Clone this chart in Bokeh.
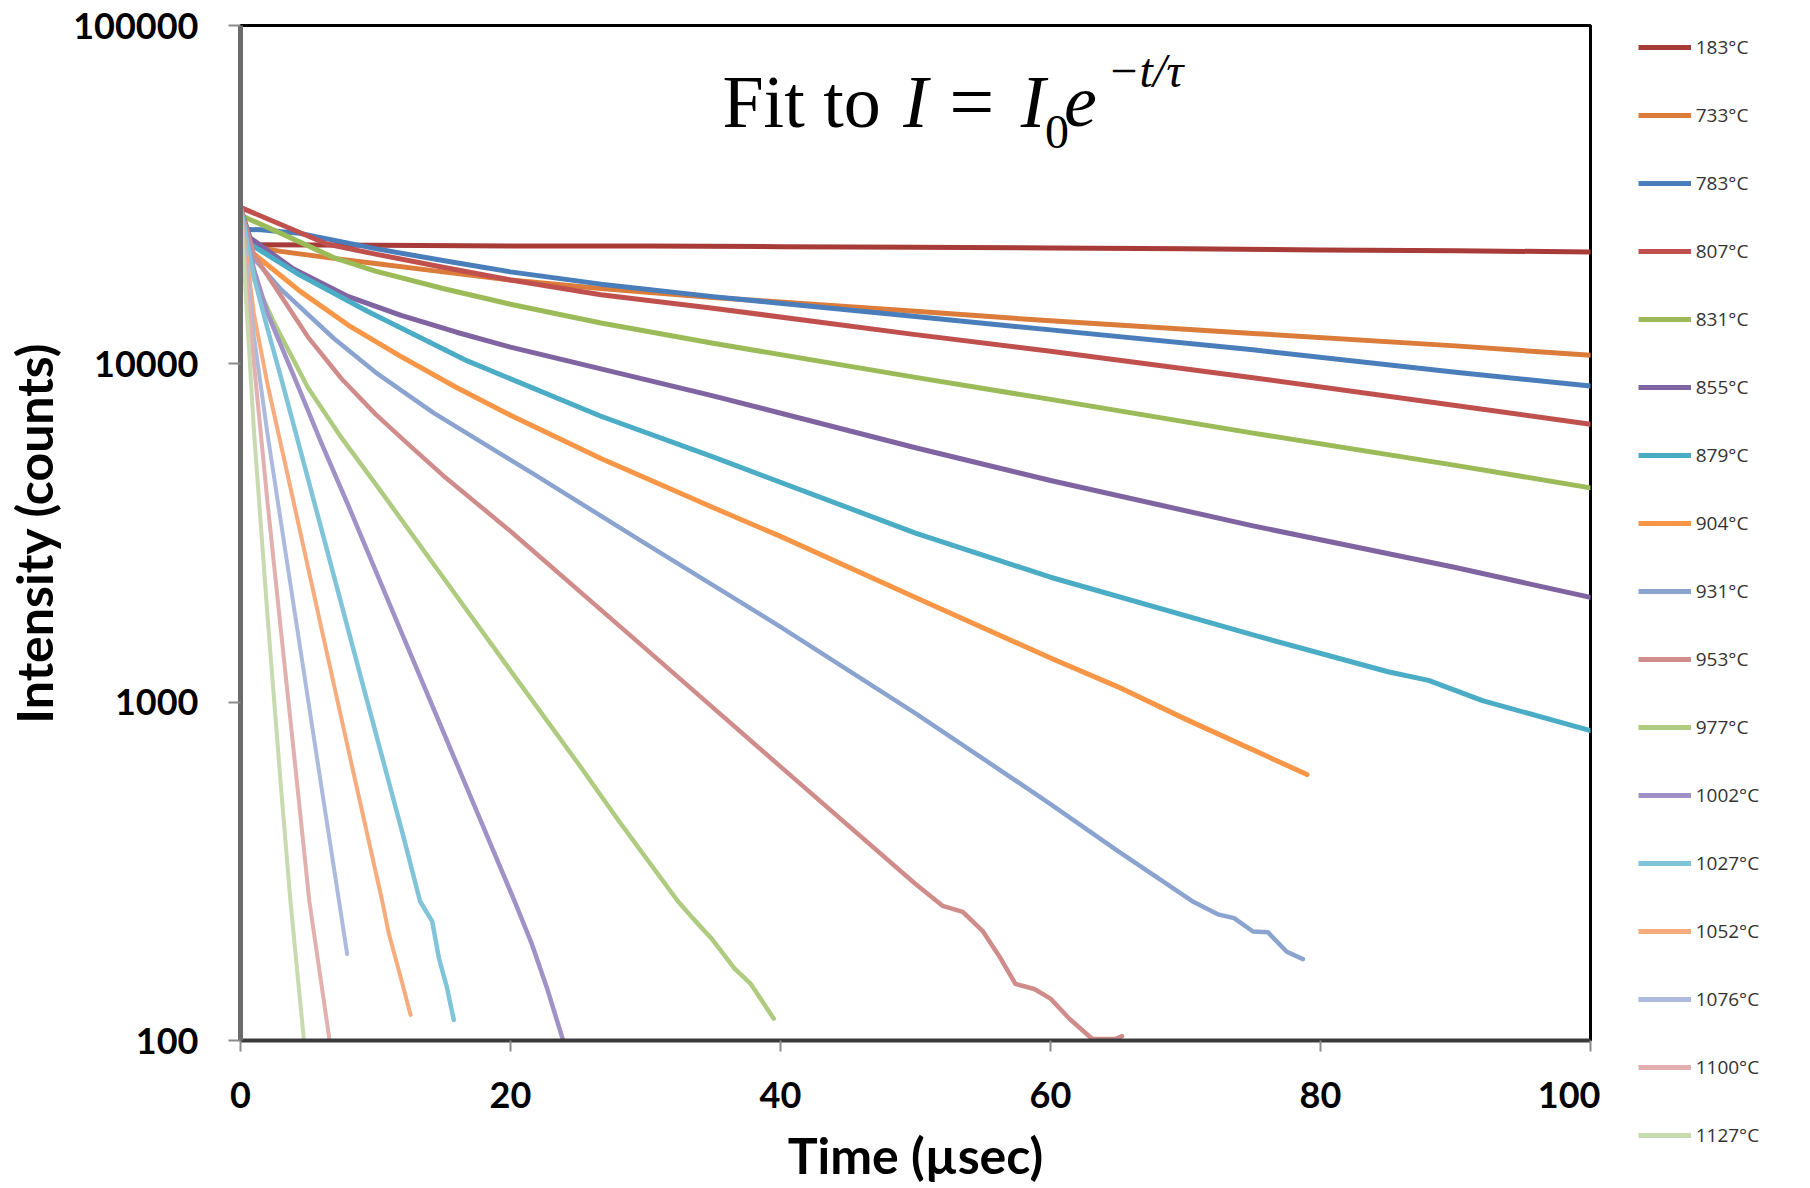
from bokeh.plotting import figure
from bokeh.layouts import row
from bokeh.models import (Range1d, Label, FixedTicker, PrintfTickFormatter,
                          Legend, LegendItem, Spacer)
from bokeh.embed import file_html
from bokeh.resources import INLINE

# ---- data: decay curves, intensity (counts) vs time (µs) ----
temps = ["183°C", "733°C", "783°C", "807°C", "831°C", "855°C", "879°C", "904°C",
         "931°C", "953°C", "977°C", "1002°C", "1027°C", "1052°C", "1076°C",
         "1100°C", "1127°C"]

t_183 = [0.5, 10, 20, 30, 40, 50, 60, 70, 80, 90, 100]
i_183 = [22500, 22400, 22300, 22300, 22200, 22100, 22000, 21900, 21700, 21600, 21400]

t_733 = [0.7, 3, 6.9, 10, 15, 20, 26.7, 35, 50, 60, 75, 90, 100]
i_733 = [22300, 21500, 20500, 19800, 18700, 17700, 16700, 15700, 14300, 13400, 12300, 11300, 10600]

t_783 = [0, 1.5, 4.4, 10, 15, 20, 26.7, 35, 50, 60, 75, 90, 100]
i_783 = [25000, 24900, 24300, 21900, 20200, 18700, 17200, 15800, 13800, 12600, 11000, 9440, 8600]

t_807 = [0, 6.4, 10, 15, 20, 26.7, 35, 50, 60, 75, 90, 100]
i_807 = [29000, 22600, 21100, 19300, 17700, 16000, 14600, 12200, 10900, 9100, 7530, 6630]

t_831 = [0, 3, 6.9, 10, 15, 20, 26.7, 35, 50, 60, 75, 90, 100]
i_831 = [27500, 24300, 20600, 18800, 16700, 15000, 13200, 11500, 9120, 7850, 6240, 5010, 4300]

t_855 = [0, 0.7, 3.9, 8, 11.9, 16, 20, 26.7, 35, 50, 60, 75, 90, 100]
i_855 = [29000, 23600, 19100, 15800, 13900, 12400, 11200, 9660, 8040, 5650, 4520, 3320, 2500, 2040]

t_879 = [0, 0.7, 4.4, 9.4, 16.8, 26.7, 35, 50, 60, 75, 85, 88, 92, 100]
i_879 = [29000, 22600, 18300, 14300, 10200, 7000, 5310, 3160, 2340, 1580, 1230, 1160, 1010, 824]

t_904 = [0, 0.7, 4.4, 8, 11.9, 16, 20, 26.7, 35, 40, 50, 60, 65, 70, 79]
i_904 = [29000, 21600, 16400, 13000, 10500, 8510, 7050, 5250, 3760, 3090, 2040, 1350, 1110, 891, 611]

t_931 = [0, 0.7, 3, 6.9, 10, 14.3, 21.7, 30, 40, 50, 60, 65, 70.5, 72.4, 73.6, 75.0, 76.1, 77.5, 78.7]
i_931 = [29000, 21100, 16600, 11900, 9440, 7160, 4730, 2940, 1670, 927, 500, 363, 258, 236, 230, 210, 209, 183, 174]

t_953 = [0, 1, 5, 7.5, 10, 12.5, 15, 20, 30, 40, 50, 52, 53.5, 55, 56.3, 57.4, 58.8, 60, 61.4, 63.1, 64.8, 65.3]
i_953 = [29000, 21000, 12000, 9020, 7100, 5750, 4680, 3200, 1440, 645, 290, 250, 240, 210, 175, 147, 142, 133, 116, 101, 101, 103]

t_977 = [0, 1, 2.5, 5, 7.5, 10, 15, 20, 25, 28, 32.4, 33.5, 34.9, 36.6, 37.8, 39.5]
i_977 = [29000, 17800, 13200, 8500, 6030, 4420, 2340, 1240, 660, 447, 258, 230, 200, 163, 147, 116]

t_1002 = [0, 1, 2, 4, 6, 8, 12, 16, 20.3, 21.6, 22.7, 23.9]
i_1002 = [29000, 19000, 14100, 9100, 5820, 3800, 1580, 660, 258, 192, 143, 100]

t_1027 = [0, 1, 2, 3, 6, 9, 12, 13.3, 14.2, 14.7, 15.3, 15.8]
i_1027 = [29000, 18000, 12700, 9100, 3240, 1150, 410, 258, 225, 175, 143, 115]

t_1052 = [0, 1, 2, 4, 6, 8, 10.5, 11.0, 11.9, 12.6]
i_1052 = [29000, 14000, 8700, 3800, 1650, 720, 258, 206, 152, 119]

t_1076 = [0, 1, 2, 4, 6, 7.3, 7.9]
i_1076 = [29000, 12000, 6200, 1860, 560, 258, 180]

t_1100 = [0, 1, 2, 3, 4, 5.1, 6.6]
i_1100 = [29000, 10000, 3900, 1620, 680, 258, 100]

t_1127 = [0, 1, 2, 3, 3.7, 4.7]
i_1127 = [29000, 6300, 1800, 560, 258, 100]

times = [t_183, t_733, t_783, t_807, t_831, t_855, t_879, t_904, t_931,
         t_953, t_977, t_1002, t_1027, t_1052, t_1076, t_1100, t_1127]
counts = [i_183, i_733, i_783, i_807, i_831, i_855, i_879, i_904, i_931,
          i_953, i_977, i_1002, i_1027, i_1052, i_1076, i_1100, i_1127]

colors = ["#A73B38", "#DB7C3B", "#4A7EBB", "#C0504D", "#9BBB59", "#8064A2",
          "#4BACC6", "#F79646", "#8AA4CF", "#D08C8A", "#AECB80", "#A091C6",
          "#80C4DA", "#F7AC7D", "#ABBADD", "#E2B0AF", "#C8DAB0"]
widths = [5, 5, 5, 5, 5, 5, 5, 5, 4.5, 4.5, 4.5, 4.5, 4.5, 4, 4, 4, 4]

x_ticks = [0, 20, 40, 60, 80, 100]
y_ticks = [100, 1000, 10000, 100000]

# ---- main chart ----
p = figure(width=1600, height=1188,
           x_range=Range1d(0, 100), y_range=Range1d(100, 100000),
           y_axis_type="log", output_backend="svg", toolbar_location=None,
           min_border_left=240, min_border_right=10,
           min_border_top=25, min_border_bottom=148)

p.background_fill_color = "white"
p.border_fill_color = "white"
p.xgrid.visible = False
p.ygrid.visible = False
p.outline_line_color = "black"
p.outline_line_width = 3

for t, c, col, w in zip(times, counts, colors, widths):
    p.line(t, c, line_color=col, line_width=w, line_join="round", line_cap="round")

xa = p.xaxis[0]
xa.ticker = FixedTicker(ticks=x_ticks, minor_ticks=[])
xa.axis_line_color = "#3a3a3a"
xa.axis_line_width = 4
xa.major_tick_in = 0
xa.major_tick_out = 11
xa.major_tick_line_color = "#8a8a8a"
xa.major_tick_line_width = 2
xa.minor_tick_line_color = None
xa.major_label_text_font = "Lato"
xa.major_label_text_font_style = "bold"
xa.major_label_text_font_size = "36px"
xa.major_label_text_color = "black"
xa.major_label_standoff = 30
xa.axis_label = "Time (µsec)"
xa.axis_label_text_font = "Lato"
xa.axis_label_text_font_style = "bold"
xa.axis_label_text_font_size = "50px"
xa.axis_label_text_color = "black"
xa.axis_label_standoff = 14

ya = p.yaxis[0]
ya.ticker = FixedTicker(ticks=y_ticks, minor_ticks=[])
ya.formatter = PrintfTickFormatter(format="%d")
ya.axis_line_color = "#6b6b6b"
ya.axis_line_width = 5
ya.major_tick_in = 0
ya.major_tick_out = 12
ya.major_tick_line_color = "#8a8a8a"
ya.major_tick_line_width = 2
ya.minor_tick_line_color = None
ya.major_label_text_font = "Lato"
ya.major_label_text_font_style = "bold"
ya.major_label_text_font_size = "36px"
ya.major_label_text_color = "black"
ya.major_label_standoff = 30
ya.axis_label = "Intensity (counts)"
ya.axis_label_text_font = "Lato"
ya.axis_label_text_font_style = "bold"
ya.axis_label_text_font_size = "50px"
ya.axis_label_text_color = "black"
ya.axis_label_standoff = 6

# fit formula, set in serif type
serif = "Liberation Serif"
big = "74px"
small = "48px"
formula = [
    ("Fit to", 35.7, 59500, "normal", big),
    ("I", 49.1, 59500, "italic", big),
    ("=", 52.5, 59500, "normal", "80px"),
    ("I", 57.8, 59500, "italic", big),
    ("0", 59.6, 48600, "normal", small),
    ("e", 61.0, 59500, "italic", big),
    ("\u2212t/\u03c4", 64.2, 73600, "italic", small),
]
for txt, fx, fy, style, size in formula:
    p.add_layout(Label(x=fx, y=fy, text=txt, text_font=serif,
                       text_font_style=style, text_font_size=size,
                       text_color="black", text_baseline="alphabetic"))

# ---- legend column to the right ----
GAP = 38
LG_W = 210 - GAP
lg = figure(width=LG_W, height=1188, x_range=Range1d(0, 1), y_range=Range1d(0, 1),
            output_backend="svg", toolbar_location=None,
            x_axis_location=None, y_axis_location=None,
            min_border_left=LG_W - 6, min_border_right=0,
            min_border_top=0, min_border_bottom=0)
lg.xgrid.visible = False
lg.ygrid.visible = False
lg.outline_line_color = None
lg.background_fill_color = "white"
lg.border_fill_color = "white"

keys = [lg.line([5, 6], [5, 5], line_color=col, line_width=5) for col in colors]
items = [LegendItem(label=lab, renderers=[k]) for lab, k in zip(temps, keys)]
legend = Legend(items=items, location="top_right",
                border_line_color=None, background_fill_alpha=0,
                padding=0, margin=7, spacing=38,
                glyph_width=53, glyph_height=30, label_height=30,
                label_width=LG_W - 6 - 7 - 7 - 53 - 5,
                label_standoff=5, label_text_font="Open Sans",
                label_text_font_size="19px", label_text_color="#333333")
lg.add_layout(legend, "left")

layout = row(p, Spacer(width=GAP, height=1188), lg, spacing=0)
open("out.html", "w").write(file_html(layout, INLINE))
